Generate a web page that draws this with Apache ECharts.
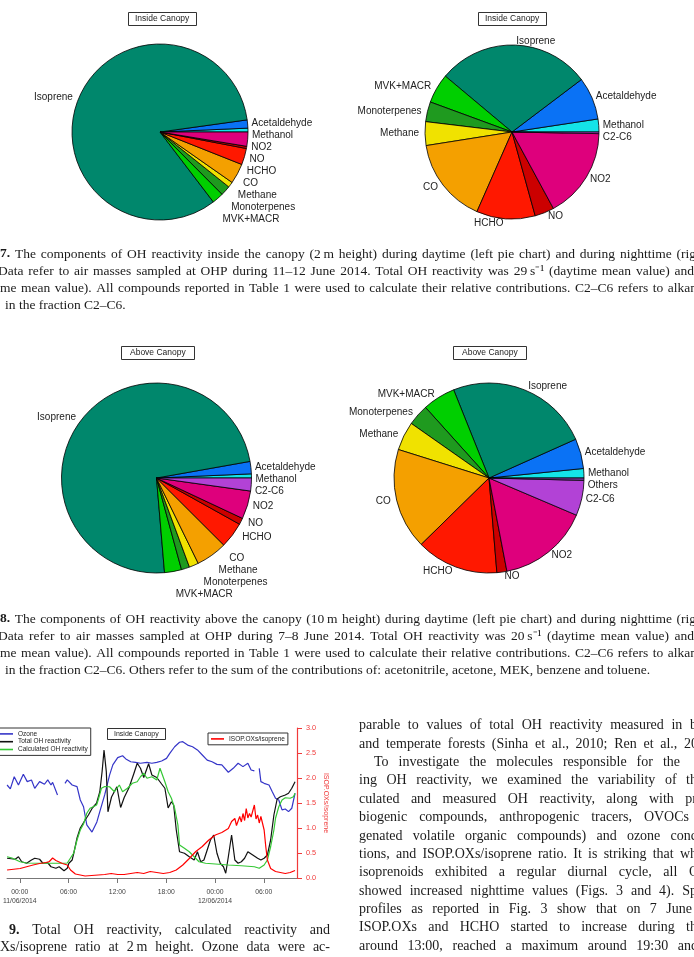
<!DOCTYPE html>
<html>
<head>
<meta charset="utf-8" />
<title>OH reactivity components</title>
<script src="https://cdn.jsdelivr.net/npm/echarts@6.0.0/dist/echarts.min.js"></script>
<style>
  html, body { margin: 0; padding: 0; background: #fff; }
  #main { width: 694px; height: 957px; }
</style>
</head>
<body>
<div id="main"></div>
<script type="text/javascript">
// ---- pie data (percent of total OH reactivity), counter-clockwise from 3 o'clock like R's pie()
var pieNames = ['Methanol', 'Acetaldehyde', 'Isoprene', 'MVK+MACR', 'Monoterpenes', 'Methane',
                'CO', 'HCHO', 'NO', 'NO2', 'C2-C6', 'Others'];
var pieColors = ['#14E4E8', '#0A72F5', '#00876C', '#00CF00', '#1F9A1F', '#F0E200',
                 '#F4A000', '#FF1800', '#CC0000', '#DE007C', '#B242D6', '#7A3A9E'];
var insideDay   = [0.7, 1.5, 83.0, 2.1, 1.8, 1.0, 3.7, 3.0, 0.4, 2.6, 0, 0];
var insideNight = [2.4, 7.9, 28.6, 5.5, 3.7, 4.4, 15.9, 10.9, 3.6, 16.8, 0.3, 0];
var aboveDay    = [0.7, 2.1, 73.7, 2.9, 1.4, 1.6, 5.3, 4.4, 1.1, 4.8, 2.2, 0];
var aboveNight  = [1.6, 5.1, 24.4, 5.6, 3.6, 4.9, 17.2, 14.0, 1.7, 15.6, 6.0, 0.4];

// ---- time series, hours from 00:00 11/06/2014
var ozoneHours = [-1.56,-1.16,-0.68,-0.16,0.44,0.92,1.44,1.84,2.44,3.04,3.44,3.84,4.04,4.64,5.2,5.56,5.84,6.44,7.04,7.44,7.84,8.24,8.88,9.48,9.84,10.44,11.04,11.44,12.04,12.64,13.04,13.64,14.24,14.84,15.64,16.24,16.84,17.44,18.04,18.44,19.04,19.64,20.04,20.64,21.24,21.84,22.44,23.04,23.64,24.24,24.84,25.64,26.24,26.84,27.44,28.04,28.44,28.84,29.2,29.44,29.64,30.04,30.64,31.04,31.44,31.84,32.24,32.64,33.04,33.44,33.84];
var ozoneValues = [49.6,47.5,54.0,49.6,55.3,51.4,52.3,47.8,51.4,50.0,52.3,49.6,51.0,44.3,null,50.5,52.3,49.6,48.7,41.6,38.0,28.3,24.5,29.9,35.4,44.3,54.9,60.3,64.2,65.2,63.5,62.0,61.7,61.2,61.7,61.2,61.7,62.4,63.8,66.5,70.0,72.4,72.7,70.9,70.0,68.3,65.6,62.9,62.0,60.6,60.3,56.4,58.5,61.2,59.4,61.2,57.6,57.1,null,58.5,51.4,50.5,49.6,46.0,42.5,41.6,36.3,36.8,35.4,37.2,45.2];

var totalHours = [-1.56,-0.56,-0.16,0.24,0.84,1.44,1.84,2.44,2.84,3.44,3.84,4.44,4.84,5.44,5.84,6.04,6.44,6.64,7.04,7.44,8.04,8.44,8.92,9.44,9.84,10.12,10.36,10.64,10.84,11.28,11.94,12.4,12.84,13.44,14.04,14.44,14.84,15.24,15.84,16.24,16.84,17.44,17.84,18.24,18.64,18.92,19.24,19.64,20.24,20.84,21.44,21.84,22.24,22.64,23.04,23.44,23.84,24.24,24.64,25.04,25.32,25.64,26.04,26.44,26.84,27.24,27.64,28.04,28.64,29.24,29.64,30.04,30.44,30.84,31.24,31.64,32.04,32.64,33.04,33.44,33.84];
var totalValues = [7.9,7.5,8.5,6.5,5.9,7.2,7.9,7.5,5.9,6.1,4.5,3.9,4.5,2.9,3.9,5.9,7.2,9.9,16.0,20.0,23.2,25.2,28.0,29.9,34.5,42.5,51.2,42.5,26.5,32.4,36.5,28.2,32.2,36.2,41.9,45.9,43.9,40.2,45.7,41.2,40.2,37.6,35.9,28.0,30.5,29.2,19.2,10.5,9.9,8.5,7.2,10.5,6.5,7.2,11.2,15.2,17.2,9.9,5.9,4.5,1.9,8.5,17.2,7.2,5.9,6.5,7.9,10.5,9.2,7.9,7.2,7.9,9.2,15.2,25.2,31.6,32.5,33.2,33.9,35.9,38.5];

var calcHours = [-1.56,-0.96,0.04,0.84,2.44,4.04,5.44,5.84,6.24,6.64,7.04,7.44,7.84,8.24,8.64,9.04,9.44,9.64,10.04,10.44,11.04,11.64,12.24,12.64,13.24,13.84,14.44,14.84,15.24,15.64,16.24,16.84,17.24,17.44,17.84,18.24,18.64,19.04,19.44,19.64,20.24,20.84,21.44,22.04,22.84,24.04,25.64,27.24,28.84,29.44,30.04,30.44,30.84,31.24,31.44,31.84,32.24,32.64,33.24,33.64,33.84];
var calcValues = [8.5,8.0,6.5,6.0,5.9,5.9,5.9,6.0,8.0,10.0,15.2,19.2,21.6,25.9,27.9,28.5,29.2,31.2,35.9,36.6,36.5,34.5,37.2,34.5,35.9,37.9,38.5,40.5,41.9,39.9,40.5,39.2,43.9,43.2,38.5,34.5,31.9,27.9,21.2,13.2,11.9,10.5,8.5,6.5,5.9,5.6,5.2,4.9,4.5,3.9,5.2,7.2,12.5,19.2,23.9,28.5,31.2,32.1,31.9,32.5,33.9];

var ratioHours = [-1.56,0.04,1.64,2.44,3.24,3.64,4.04,4.44,5.24,5.84,6.24,6.84,8.04,9.64,10.44,11.24,12.04,12.84,14.44,15.24,16.04,16.84,17.64,18.44,19.24,20.04,20.84,21.64,22.44,23.24,24.04,24.84,25.64,26.04,26.44,26.64,27.04,27.24,27.44,27.64,27.84,28.04,28.24,28.44,28.84,29.04,29.24,29.44,29.64,30.04,30.24,30.44,30.84,31.44,32.64,33.24,33.84];
var ratioValues = [0.16,0.19,0.26,0.29,0.31,0.33,0.40,0.35,0.29,0.26,0.16,0.08,0.04,0.06,0.07,0.09,0.07,0.07,0.11,0.09,0.13,0.11,0.09,0.11,0.16,0.26,0.39,0.53,0.63,0.76,0.86,0.91,0.99,1.13,1.19,1.05,1.23,1.12,1.29,1.15,1.39,1.20,1.29,1.22,1.46,1.18,1.26,1.10,1.23,0.96,0.63,0.36,0.19,0.13,0.09,0.11,0.15];

var xTickHours = [0, 6, 12, 18, 24, 30];
var xTickLabels = ['00:00\n11/06/2014', '06:00', '12:00', '18:00', '00:00\n12/06/2014', '06:00'];

// ---- page text (cropped scan of the article)
var caption7 = [
  '7. The components of OH reactivity inside the canopy (2\u2009m height) during daytime (left pie chart) and during nighttime (rig',
  'Data refer to air masses sampled at OHP during 11\u201312 June 2014. Total OH reactivity was 29\u2009s\u207B\u00B9 (daytime mean value) and',
  'me mean value). All compounds reported in Table 1 were used to calculate their relative contributions. C2\u2013C6 refers to alkan',
  'in the fraction C2\u2013C6.'
];
var caption8 = [
  '8. The components of OH reactivity above the canopy (10\u2009m height) during daytime (left pie chart) and during nighttime (rig',
  'Data refer to air masses sampled at OHP during 7\u20138 June 2014. Total OH reactivity was 20\u2009s\u207B\u00B9 (daytime mean value) and',
  'me mean value). All compounds reported in Table 1 were used to calculate their relative contributions. C2\u2013C6 refers to alkan',
  'in the fraction C2\u2013C6. Others refer to the sum of the contributions of: acetonitrile, acetone, MEK, benzene and toluene.'
];
var caption9 = [
  '9. Total OH reactivity, calculated reactivity and',
  'Xs/isoprene ratio at 2\u2009m height. Ozone data were ac-'
];
var bodyLines = [
  'parable to values of total OH reactivity measured in b',
  'and temperate forests (Sinha et al., 2010; Ren et al., 20',
  'To investigate the molecules responsible for the',
  'ing OH reactivity, we examined the variability of th',
  'culated and measured OH reactivity, along with pr',
  'biogenic compounds, anthropogenic tracers, OVOCs',
  'genated volatile organic compounds) and ozone conc',
  'tions, and ISOP.OXs/isoprene ratio. It is striking that wh',
  'isoprenoids exhibited a regular diurnal cycle, all O',
  'showed increased nighttime values (Figs. 3 and 4). Sp',
  'profiles as reported in Fig. 3 show that on 7 June',
  'ISOP.OXs and HCHO started to increase during th',
  'around 13:00, reached a maximum around 19:30 and'
];
var bodyRight = [697, 698, 680, 697, 697, 689, 697, 697, 699, 697, 692, 697, 698];

// ---- helpers
var measureCtx = document.createElement('canvas').getContext('2d');
function fontOf(size, bold) {
  return (bold ? 'bold ' : '') + size + "px 'Liberation Serif'";
}
function textLine(line, x0, x1, y, size, boldFirst, justify) {
  var words = line.split(' ');
  var fonts = words.map(function (w, i) { return fontOf(size, boldFirst && i === 0); });
  var widths = words.map(function (w, i) { measureCtx.font = fonts[i]; return measureCtx.measureText(w).width; });
  measureCtx.font = fontOf(size, false);
  var gap = measureCtx.measureText(' ').width;
  if (justify && words.length > 1) {
    var total = widths.reduce(function (a, b) { return a + b; }, 0);
    gap = Math.max(1.5, (x1 - x0 - total) / (words.length - 1));
  }
  var x = x0;
  return words.map(function (w, i) {
    var el = {
      type: 'text', x: x, y: y, silent: true,
      style: { text: w, font: fonts[i], fill: '#1b1b1b', textVerticalAlign: 'middle', verticalAlign: 'middle' }
    };
    x += widths[i] + gap;
    return el;
  });
}

function pieSeries(values, cx, cy, r) {
  var data = [];
  values.forEach(function (v, i) {
    if (v > 0) data.push({ name: pieNames[i], value: v, itemStyle: { color: pieColors[i] } });
  });
  return {
    type: 'pie', center: [cx, cy], radius: r,
    startAngle: 0, clockwise: false, silent: true,
    itemStyle: { borderColor: '#000', borderWidth: 0.8 },
    label: { position: 'outside', fontSize: 10, color: '#222', fontFamily: 'Liberation Sans', distanceToLabelLine: 2 },
    labelLine: { show: false, length: 4, length2: 0 },
    data: data
  };
}
function pairs(hours, values) {
  return hours.map(function (h, i) { return [h, values[i] === null ? '-' : values[i]]; });
}
function boxTitle(text, left, top, size, padH) {
  return {
    text: text, left: left, top: top, padding: [2, padH],
    borderColor: '#333', borderWidth: 1,
    textStyle: { fontSize: size, fontWeight: 'normal', color: '#222', fontFamily: 'Liberation Sans', lineHeight: size + 1 }
  };
}

// ---- graphic texts
var texts = [];
caption7.forEach(function (l, i) {
  var last = i === caption7.length - 1;
  texts = texts.concat(textLine(l, last ? 5 : (i === 1 ? -2 : 0), i === 2 ? 697 : (i === 1 ? 694 : 696), 254 + 17 * i, 13.5, i === 0, !last));
});
caption8.forEach(function (l, i) {
  var last = i === caption8.length - 1;
  texts = texts.concat(textLine(l, last ? 5 : (i === 1 ? -2 : 0), i === 2 ? 697 : (i === 1 ? 694 : 696), 619 + 17 * i, 13.5, i === 0, !last));
});
texts = texts.concat(textLine(caption9[0], 9, 330, 930, 14, true, true));
texts = texts.concat(textLine(caption9[1], 0, 330, 947, 14, false, true));
bodyLines.forEach(function (l, i) {
  texts = texts.concat(textLine(l, i === 2 ? 374 : 359, bodyRight[i], 725.7 + 18.36 * i, 14, false, true));
});

var myChart = echarts.init(document.getElementById('main'));
var option = {
  animation: false,
  backgroundColor: '#fff',
  textStyle: { fontFamily: 'Liberation Sans' },
  title: [
    boxTitle('Inside Canopy', 128, 12, 8.5, 7),
    boxTitle('Inside Canopy', 478, 12, 8.5, 7),
    boxTitle('Above Canopy', 121, 346, 8.5, 9),
    boxTitle('Above Canopy', 453, 346, 8.5, 9),
    boxTitle('Inside Canopy', 107, 728, 7, 7)
  ],
  legend: [
    {
      data: ['Ozone', 'Total OH reactivity', 'Calculated OH reactivity'],
      orient: 'vertical', left: -3, top: 728, padding: [2, 3, 2, 3],
      itemGap: 0, itemWidth: 13, itemHeight: 1.6, icon: 'rect', selectedMode: false,
      borderColor: '#333', borderWidth: 1, borderRadius: 0,
      textStyle: { fontSize: 6.5, lineHeight: 7.8, color: '#222' }
    },
    {
      data: ['ISOP.OXs/isoprene'],
      left: 208, top: 733, padding: [2, 3, 2, 3],
      itemWidth: 13, itemHeight: 1.6, icon: 'rect', selectedMode: false,
      borderColor: '#333', borderWidth: 1, borderRadius: 0,
      textStyle: { fontSize: 6.5, lineHeight: 7.8, color: '#222' }
    }
  ],
  grid: { left: 0, top: 728, width: 297, height: 150 },
  xAxis: {
    type: 'value', min: -1.56, max: 34.08, offset: 2,
    axisLine: { lineStyle: { color: '#777', width: 1.2 } },
    axisTick: { customValues: xTickHours, length: 5, lineStyle: { color: '#777' } },
    axisLabel: {
      customValues: xTickHours, fontSize: 6.8, lineHeight: 9, color: '#444', margin: 8,
      formatter: function (v) { var k = xTickHours.indexOf(v); return k >= 0 ? xTickLabels[k] : ''; }
    },
    splitLine: { show: false }
  },
  yAxis: [
    { type: 'value', show: false, min: 0, max: 60 },
    { type: 'value', show: false, min: 0, max: 80 },
    {
      type: 'value', position: 'right', min: 0, max: 3, interval: 0.5,
      name: 'ISOP.OXs/isoprene', nameLocation: 'middle', nameRotate: -90, nameGap: 25,
      nameTextStyle: { color: '#F03A3A', fontSize: 7 },
      axisLine: { show: true, lineStyle: { color: '#F03A3A', width: 1.2 } },
      axisTick: { show: true, length: 5, lineStyle: { color: '#F03A3A' } },
      axisLabel: { color: '#F03A3A', fontSize: 7.3, margin: 9, formatter: function (v) { return v.toFixed(1); } },
      splitLine: { show: false }
    }
  ],
  series: [
    pieSeries(insideDay, 160, 132, 88),
    pieSeries(insideNight, 512, 132, 87),
    pieSeries(aboveDay, 156.5, 478, 95),
    pieSeries(aboveNight, 489, 478, 95),
    { name: 'Ozone', type: 'line', yAxisIndex: 1, showSymbol: false, connectNulls: false,
      lineStyle: { color: '#3535C8', width: 1.2 }, itemStyle: { color: '#3535C8' }, data: pairs(ozoneHours, ozoneValues) },
    { name: 'Total OH reactivity', type: 'line', yAxisIndex: 0, showSymbol: false,
      lineStyle: { color: '#111', width: 1.2 }, itemStyle: { color: '#111' }, data: pairs(totalHours, totalValues) },
    { name: 'Calculated OH reactivity', type: 'line', yAxisIndex: 0, showSymbol: false,
      lineStyle: { color: '#35C835', width: 1.2 }, itemStyle: { color: '#35C835' }, data: pairs(calcHours, calcValues) },
    { name: 'ISOP.OXs/isoprene', type: 'line', yAxisIndex: 2, showSymbol: false,
      lineStyle: { color: '#FF0000', width: 1.2 }, itemStyle: { color: '#FF0000' }, data: pairs(ratioHours, ratioValues) }
  ],
  graphic: { elements: texts }
};
myChart.setOption(option);
</script>
</body>
</html>
